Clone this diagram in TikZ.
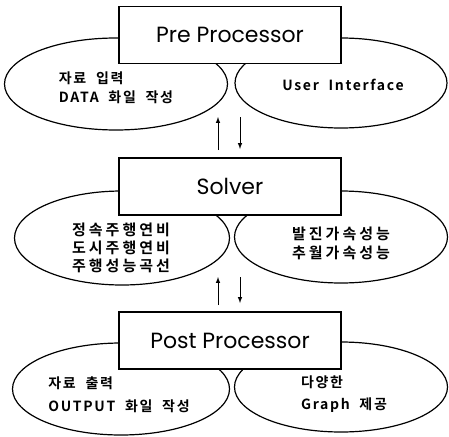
\documentclass[tikz,border=0pt]{standalone}
\usepackage{fontspec}
\setmainfont{Noto Sans CJK KR}[BoldFont={Noto Sans CJK KR Bold}]
\newfontfamily\boxfont{Poppins}
\newfontfamily\taskfont{Noto Sans CJK KR Bold}[LetterSpace=12, WordSpace=2]
\usetikzlibrary{shapes.geometric, arrows}
\tikzstyle{stage} = [rectangle, draw=black, fill=white, line width=1.4pt, minimum width=222pt, minimum height=57pt, text centered, font=\boxfont\fontsize{22}{24}\selectfont]
\tikzstyle{task} = [ellipse, draw=black, line width=1.2pt, inner sep=0pt]
\tikzstyle{tasktext} = [inner sep=0pt, align=left, font=\taskfont\fontsize{14}{19}\selectfont]
\tikzstyle{arrow} = [line width=1pt,->,>=latex]

\begin{document}
\begin{tikzpicture}[x=1pt, y=-1pt]
\useasboundingbox (0,0) rectangle (449,436);

%% TASKS

\node (preA) [task, minimum width=223pt, minimum height=92pt] at (116,84) {};
\node (preB) [task, minimum width=212pt, minimum height=90pt] at (341,83) {};
\node (solA) [task, minimum width=215pt, minimum height=94pt] at (122,238) {};
\node (solB) [task, minimum width=213pt, minimum height=92pt] at (341,237) {};
\node (postA) [task, minimum width=217pt, minimum height=92pt] at (121,389) {};
\node (postB) [task, minimum width=213pt, minimum height=90pt] at (341,387) {};

\node (preAtext) [tasktext] at (116,88) {자료 입력\\DATA 화일 작성};
\node (preBtext) [tasktext] at (343,85) {User Interface};
\node (solAtext) [tasktext, align=center, font=\taskfont\fontsize{15}{18}\selectfont\addfontfeature{LetterSpace=20}] at (121,248) {정속주행연비\\도시주행연비\\주행성능곡선};
\node (solBtext) [tasktext, align=center, font=\taskfont\fontsize{15}{19}\selectfont\addfontfeature{LetterSpace=20}] at (341,243) {발진가속성능\\추월가속성능};
\node (postAtext) [tasktext, font=\taskfont\fontsize{14}{23}\selectfont] at (119,395) {자료 출력\\OUTPUT 화일 작성};
\node (postBtext) [tasktext, font=\taskfont\fontsize{14}{22}\selectfont] at (344,394) {다양한\\Graph 제공};

%% STAGES

\node (pre) [stage] at (230,35) {Pre Processor};
\node (sol) [stage] at (230,186.5) {Solver};
\node (post) [stage] at (230,340.5) {Post Processor};

%% ARROWS

\coordinate (upA1) at (218,150);
\coordinate (upA2) at (218,117);
\coordinate (dnA1) at (240,117);
\coordinate (dnA2) at (240,149);
\coordinate (upB1) at (218,305);
\coordinate (upB2) at (218,277);
\coordinate (dnB1) at (240,277);
\coordinate (dnB2) at (240,303);

\draw [arrow] (upA1) -- (upA2);
\draw [arrow] (dnA1) -- (dnA2);
\draw [arrow] (upB1) -- (upB2);
\draw [arrow] (dnB1) -- (dnB2);

\end{tikzpicture}
\end{document}
